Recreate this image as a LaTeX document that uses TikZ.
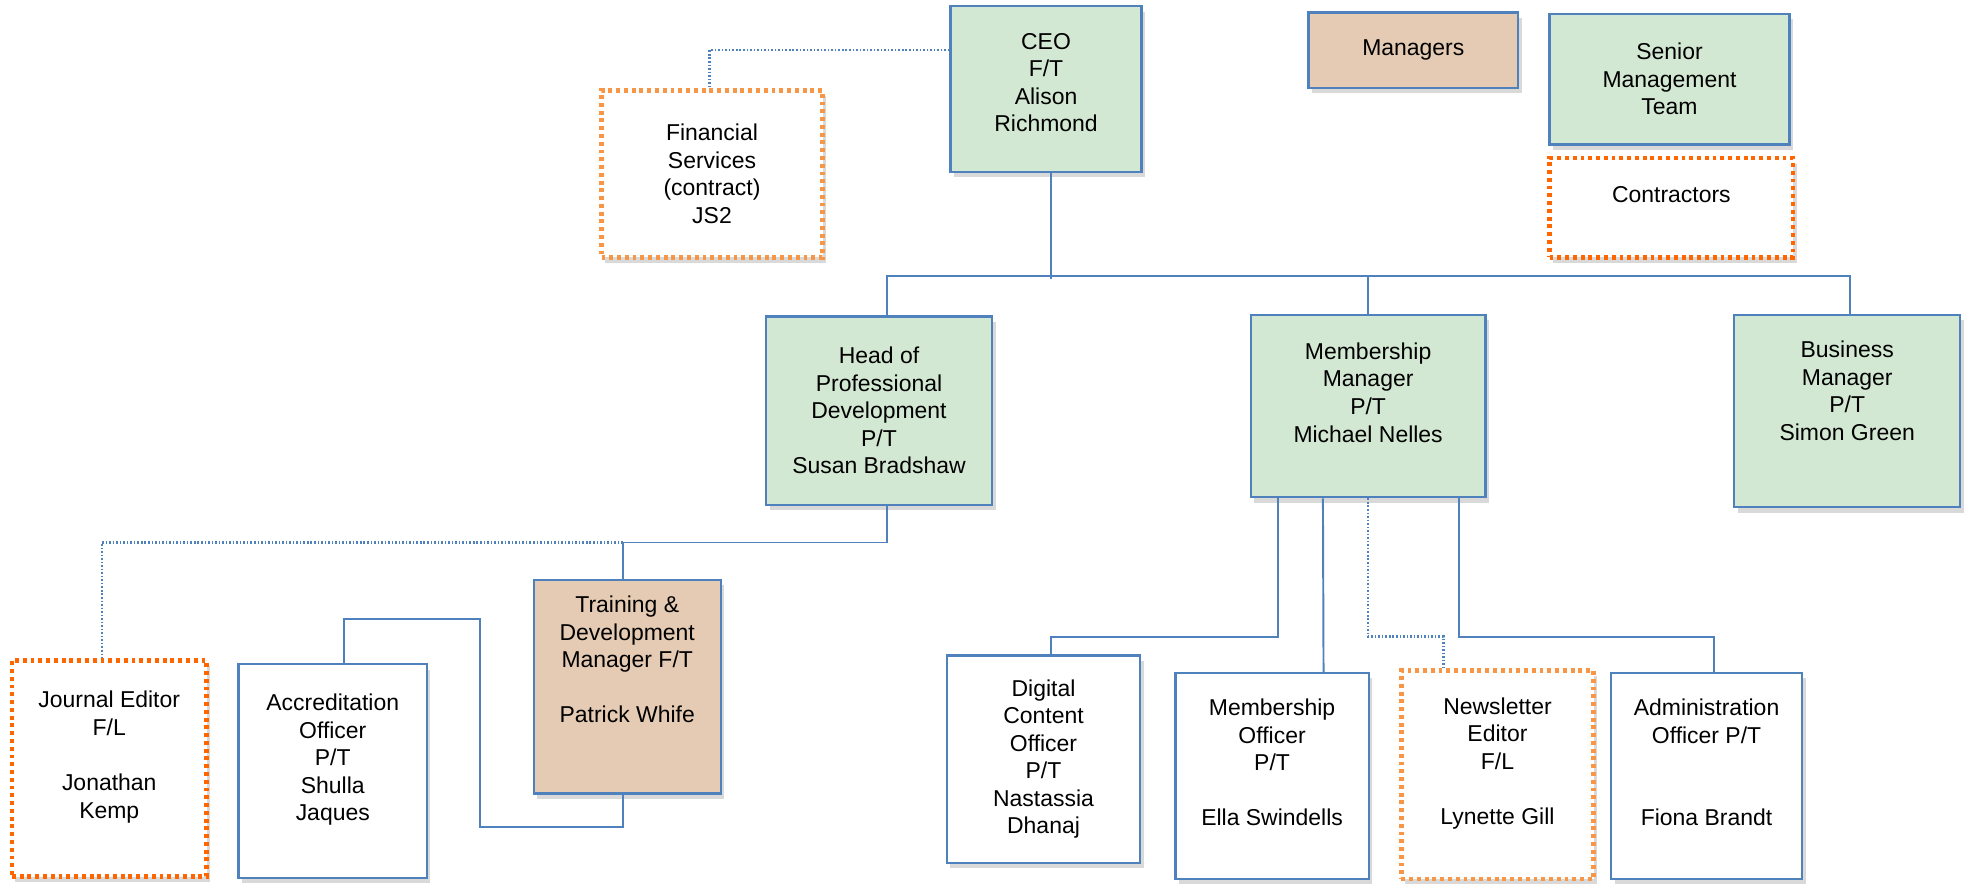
\documentclass[tikz,border=0pt]{standalone}
\usepackage{fontspec}
\setmainfont{Liberation Sans}
\usetikzlibrary{shadows}

\definecolor{ocblue}{RGB}{79,129,189}
\definecolor{ocgreen}{RGB}{211,232,211}
\definecolor{octan}{RGB}{229,203,179}
\definecolor{ocorange}{RGB}{247,150,70}
\definecolor{ocred}{RGB}{255,102,0}

\tikzset{
  unit/.style={draw=ocblue, line width=1.3pt, fill=white, align=center, inner sep=1pt,
    font=\fontsize{13}{15.6}\selectfont,
    drop shadow={opacity=0.3, shadow xshift=2pt, shadow yshift=-3pt}},
  senior/.style={unit, fill=ocgreen},
  manager/.style={unit, fill=octan},
  contract/.style={unit, draw=#1, line width=2.4pt, dash pattern=on 2.2pt off 2.2pt},
  dims/.style 2 args={minimum width=#1*0.025cm, minimum height=#2*0.025cm},
  link/.style={draw=ocblue, line width=1.1pt},
  dotlink/.style={link, line width=1.3pt, dash pattern=on 0.9pt off 1.1pt}
}

\begin{document}
\begin{tikzpicture}[x=0.025cm, y=-0.025cm]
    \useasboundingbox (0,0) rectangle (1568,707);

    % top of the chart and the key
    \node[senior, dims={152}{132}] (ceo) at (833,71) {CEO\\F/T\\Alison\\Richmond\\[-8pt]~};
    \node[contract=ocorange, dims={176}{133}] (fin) at (567,138.5) {Financial\\Services\\(contract)\\JS2};
    \node[manager, dims={167}{60}] (keymgr) at (1125.5,40) {Managers};
    \node[senior, dims={191}{104}] (keysmt) at (1329.5,63) {Senior\\Management\\Team};
    \node[contract=ocred, dims={194}{79}] (keycon) at (1331,165.5) {Contractors\\~};

    % second row
    \node[senior, dims={180}{150}] (head) at (700,327) {Head of\\Professional\\Development\\P/T\\Susan Bradshaw};
    \node[senior, dims={187}{145}] (memb) at (1089.5,323.5) {Membership\\Manager\\P/T\\Michael Nelles\\~};
    \node[senior, dims={180}{153}] (bus) at (1471,327.5) {Business\\Manager\\P/T\\Simon Green\\~\\[-8pt]~};

    % staff
    \node[contract=ocred, dims={155}{172}] (journal) at (87,612) {Journal Editor\\F/L\\~\\Jonathan\\Kemp\\~};
    \node[unit, dims={150}{170}] (accred) at (265,614) {Accreditation\\Officer\\P/T\\Shulla\\Jaques\\~};
    \node[manager, dims={149}{170}] (train) at (499.5,547) {Training \&\\Development\\Manager F/T\\~\\Patrick Whife\\~\\~};
    \node[unit, dims={154}{165}] (digital) at (831,604.5) {Digital\\Content\\Officer\\P/T\\Nastassia\\Dhanaj};
    \node[unit, dims={154}{164}] (memoff) at (1013,618) {Membership\\Officer\\P/T\\~\\Ella Swindells\\~};
    \node[contract=ocorange, dims={153}{166}] (news) at (1192.5,617) {Newsletter\\Editor\\F/L\\~\\Lynette Gill\\~};
    \node[unit, dims={152}{164}] (admin) at (1359,618) {Administration\\Officer P/T\\~\\~\\Fiona Brandt\\~};

    % reporting lines from the CEO
    \draw[link] ([shift={(4,0)}]ceo.south) -- ++(0,84);
    \draw[link] ([shift={(6,0)}]head.north) -- ++(0,-31) -| ([shift={(2,0)}]bus.north);
    \draw[link] (memb.north) -- ++(0,-30);
    \draw[dotlink] ([shift={(0,-31)}]ceo.west) -| ([shift={(-2,0)}]fin.north);

    % professional development team
    \coordinate (hub) at (496,432);
    \draw[link] ([shift={(6,0)}]head.south) |- (hub) -- (hub |- train.north);
    \draw[dotlink] (hub) -| ([shift={(-6,0)}]journal.north);
    \draw[link] (hub |- train.south) |- ++(-114,26) |- ++(-108,-166) -- ([shift={(9,0)}]accred.north);

    % membership team
    \draw[link] ([shift={(-72,0)}]memb.south) -- ++(0,110) -| ([shift={(6,0)}]digital.north);
    \draw[link] ([shift={(-36,0)}]memb.south) -- ([shift={(41,0)}]memoff.north);
    \draw[dotlink] (memb.south) -- ++(0,110) -| ([shift={(-43,0)}]news.north);
    \draw[link] ([shift={(72,0)}]memb.south) -- ++(0,110) -| ([shift={(6,0)}]admin.north);
\end{tikzpicture}
\end{document}
